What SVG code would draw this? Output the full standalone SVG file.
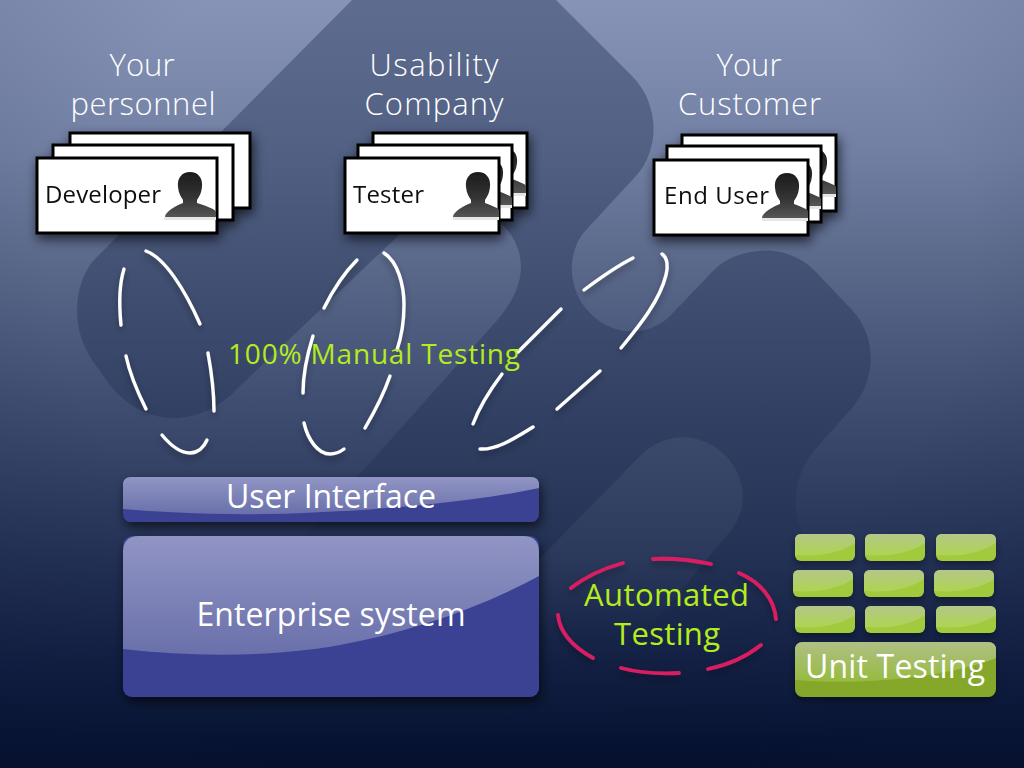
<svg xmlns="http://www.w3.org/2000/svg" xmlns:xlink="http://www.w3.org/1999/xlink" width="1024" height="768" viewBox="0 0 1024 768">
<style>
text{font-family:"Open Sans","Noto Sans","Liberation Sans",sans-serif;font-weight:300}
.h{font-size:31px;fill:#fff;text-anchor:middle}
.c{font-size:24px;fill:#111;font-weight:400}
.g{font-size:31px;fill:#b4ec1c;text-anchor:middle;font-weight:400}
.w{font-size:32px;fill:#fff;text-anchor:middle;font-weight:400}
.card{fill:#fff;stroke:#000;stroke-width:3}
.dash{fill:none;stroke:#fff;stroke-width:3.4;stroke-linecap:round}
.pink{fill:none;stroke:#dc1f62;stroke-width:3.8;stroke-linecap:round}
.sm{fill:#a2ca3e}
.smg{fill:url(#gs)}
</style>
<defs>
<linearGradient id="bg" x1="0" y1="0" x2="0" y2="1">
<stop offset="0" stop-color="#8794b8"/><stop offset=".2" stop-color="#717fa3"/><stop offset=".33" stop-color="#5c6a8c"/><stop offset=".52" stop-color="#404e72"/><stop offset=".72" stop-color="#253357"/><stop offset=".88" stop-color="#101d40"/><stop offset="1" stop-color="#030f2c"/>
</linearGradient>
<radialGradient id="vig" cx=".5" cy=".35" r=".75">
<stop offset=".6" stop-color="#0a1535" stop-opacity="0"/><stop offset="1" stop-color="#0a1535" stop-opacity=".2"/>
</radialGradient>
<linearGradient id="dk" gradientUnits="userSpaceOnUse" x1="0" y1="0" x2="0" y2="740">
<stop offset="0" stop-color="#1a2a4c" stop-opacity=".38"/><stop offset=".6" stop-color="#1a2a4c" stop-opacity=".34"/><stop offset="1" stop-color="#1a2a4c" stop-opacity="0"/>
</linearGradient>
<linearGradient id="lt" gradientUnits="userSpaceOnUse" x1="0" y1="430" x2="0" y2="640">
<stop offset="0" stop-color="#fff" stop-opacity=".06"/><stop offset=".6" stop-color="#fff" stop-opacity=".04"/><stop offset="1" stop-color="#fff" stop-opacity="0"/>
</linearGradient>
<linearGradient id="gb" x1="0" y1="0" x2="0" y2="1"><stop offset="0" stop-color="#9195c5"/><stop offset="1" stop-color="#6a70aa"/></linearGradient>
<linearGradient id="gs" x1="0" y1="0" x2="0" y2="1"><stop offset="0" stop-color="#b4c788"/><stop offset="1" stop-color="#aed452"/></linearGradient>
<linearGradient id="gu" x1="0" y1="0" x2="0" y2="1"><stop offset="0" stop-color="#b0c086"/><stop offset="1" stop-color="#96bb3e"/></linearGradient>
<linearGradient id="pg" x1="0" y1="0" x2="0" y2="1"><stop offset="0" stop-color="#1c1c1c"/><stop offset=".55" stop-color="#333"/><stop offset="1" stop-color="#555"/></linearGradient>
<filter id="sh" x="-20%" y="-30%" width="140%" height="170%"><feDropShadow dx="2" dy="5" stdDeviation="6" flood-color="#000" flood-opacity=".65"/></filter>
<filter id="ds" x="-30%" y="-30%" width="160%" height="170%"><feDropShadow dx="0" dy="4" stdDeviation="3.5" flood-color="#000" flood-opacity=".35"/></filter>
<filter id="soft" x="-5%" y="-5%" width="110%" height="110%"><feGaussianBlur stdDeviation=".6"/></filter>
<g id="person">
<rect x="0" y="45" width="52" height="3" fill="#e6e6e6" filter="url(#soft)"/>
<path d="M26,0C34,0 39,6 38,15C37.500,21 35,25 33,28L33,31C41,34 50,36 52,40L52,45L1,45C1,40 11,34 19,31L19,28C17,25 14.500,21 14,15C13,6 18,0 26,0Z" fill="url(#pg)" filter="url(#soft)"/>
</g>
<g id="personn">
<rect x="0" y="45" width="46" height="3" fill="#e6e6e6" filter="url(#soft)"/>
<path d="M25,0C33,0 38,6 37,15C36.500,21 34,25 32,28L32,31C39,34 46,36 46,38L46,45L0,45C0,40 10,34 18,31L18,28C16,25 13.500,21 13,15C12,6 17,0 25,0Z" fill="url(#pg)" filter="url(#soft)"/>
</g>
</defs>

<g id="background">
<rect width="1024" height="768" fill="url(#bg)"/>
<rect width="1024" height="768" fill="url(#vig)"/>
<path fill="url(#dk)" d="M352,0L556,0L632,76C660,104 660,150 636,176L586,230C566,252 567,290 590,313C612,336 646,337 668,318L712,272C738,244 790,243 816,272L852,310C878,338 876,380 852,408L818,446C792,474 790,512 806,540L830,768L0,768L180,660L310,530L492,326C526,290 530,255 504,226C480,202 445,196 420,215L240,386C200,430 140,430 105,378L92,360C72,330 72,290 92,262Z"/>
<path fill="url(#lt)" d="M640,456C668,428 705,434 726,456C748,480 748,512 728,534L640,640L460,640Z"/>
</g>

<g id="connectors">
<g id="ellipse-developer" filter="url(#ds)">
<path class="dash" d="M146,251C165,258 185,290 200,324"/>
<path class="dash" d="M124,269C119,285 119,305 121,325"/>
<path class="dash" d="M126,356C130,375 138,393 146,409"/>
<path class="dash" d="M208,353C212,375 214,393 214,411"/>
<path class="dash" d="M162,435C172,447 182,453 190,453C198,453 204,447 207,440"/>
</g>
<g id="ellipse-tester" filter="url(#ds)">
<path class="dash" d="M357,260C345,272 333,290 324,308"/>
<path class="dash" d="M384,253C398,262 404,285 404,305C404,320 402,335 397,350"/>
<path class="dash" d="M313,336C307,355 303,375 303,393"/>
<path class="dash" d="M390,376C384,393 375,411 365,428"/>
<path class="dash" d="M304,423C308,440 318,454 330,454C335,454 340,452 344,449"/>
</g>
<g id="ellipse-enduser" filter="url(#ds)">
<path class="dash" d="M633,258C615,267 600,278 584,290"/>
<path class="dash" d="M662,254C668,258 668,268 666,275C660,300 640,325 621,348"/>
<path class="dash" d="M561,309L518,352"/>
<path class="dash" d="M502,374C490,390 480,405 473,424"/>
<path class="dash" d="M600,371L557,409"/>
<path class="dash" d="M480,449C497,450 515,438 533,427"/>
</g>
<g id="ellipse-automated" filter="url(#ds)">
<path class="pink" d="M623,563C605,568 585,577 571,588"/>
<path class="pink" d="M653,559C672,558 692,560 711,564"/>
<path class="pink" d="M739,573C760,582 774,598 776,619"/>
<path class="pink" d="M558,615C560,635 575,648 593,658"/>
<path class="pink" d="M621,668C640,673 660,674 679,673"/>
<path class="pink" d="M708,669C728,665 746,657 761,645"/>
</g>
</g>

<g id="label-personnel"><text class="h" x="142" y="76">Your</text><text class="h" x="143" y="115" textLength="145">personnel</text></g>
<g id="label-usability"><text class="h" x="434" y="76" textLength="129">Usability</text><text class="h" x="434" y="115" textLength="139">Company</text></g>
<g id="label-customer"><text class="h" x="749" y="76">Your</text><text class="h" x="749.500" y="115" textLength="143">Customer</text></g>

<g id="cards-developer" filter="url(#sh)">
<g transform="translate(70,133)"><rect class="card" width="180" height="75"/><use xlink:href="#person" href="#person" x="94" y="15"/></g>
<g transform="translate(53,145)"><rect class="card" width="180" height="75"/><use xlink:href="#person" href="#person" x="111" y="15"/></g>
<g id="node-developer" transform="translate(37,158)"><rect class="card" width="180" height="75"/><use xlink:href="#person" href="#person" x="127" y="14"/><text class="c" x="8" y="45" textLength="116">Developer</text></g>
</g>
<g id="cards-tester" filter="url(#sh)">
<g transform="translate(373,133)"><rect class="card" width="154" height="75"/><use xlink:href="#personn" href="#personn" x="107" y="15"/></g>
<g transform="translate(358,145)"><rect class="card" width="154" height="75"/><use xlink:href="#personn" href="#personn" x="108" y="15"/></g>
<g id="node-tester" transform="translate(345,158)"><rect class="card" width="154" height="75"/><use xlink:href="#personn" href="#personn" x="108" y="14"/><text class="c" x="8" y="45" textLength="71">Tester</text></g>
</g>
<g id="cards-enduser" filter="url(#sh)">
<g transform="translate(682,135)"><rect class="card" width="154" height="76"/><use xlink:href="#personn" href="#personn" x="108" y="14"/></g>
<g transform="translate(667,146)"><rect class="card" width="154" height="76"/><use xlink:href="#personn" href="#personn" x="108" y="15"/></g>
<g id="node-enduser" transform="translate(654,160)"><rect class="card" width="154" height="75"/><use xlink:href="#personn" href="#personn" x="108" y="13"/><text class="c" x="10" y="44" textLength="105">End User</text></g>
</g>

<text id="label-manual" class="g" x="374" y="364" style="font-size:28px" textLength="292">100% Manual Testing</text>

<g id="node-ui">
<rect x="123" y="477" width="416" height="45" rx="8" fill="#3a4393" filter="url(#sh)"/>
<path d="M123,509L123,485Q123,477 131,477L531,477Q539,477 539,485L539,488C470,503 360,512 270,514C210,515 160,512 123,509Z" fill="url(#gb)"/>
<text class="w" x="331" y="508" textLength="210">User Interface</text>
</g>
<g id="node-enterprise">
<rect x="123" y="536" width="416" height="161" rx="9" fill="#3a4393" filter="url(#sh)"/>
<path d="M123,649L123,552Q123,536 139,536L523,536Q539,536 539,552L539,576C480,608 410,632 340,645C280,656 200,658 123,649Z" fill="url(#gb)"/>
<text class="w" x="331" y="626" textLength="269">Enterprise system</text>
</g>

<g id="label-automated"><text class="g" x="666.500" y="606" textLength="165">Automated</text><text class="g" x="667" y="645" textLength="106">Testing</text></g>

<g id="unit-tests">
<g id="tests-row-1" filter="url(#ds)">
<rect class="sm" x="795" y="534" width="60" height="27" rx="6"/><rect class="sm" x="865" y="534" width="60" height="27" rx="6"/><rect class="sm" x="936" y="534" width="60" height="27" rx="6"/>
<path class="smg" d="M795,555V540Q795,534 801,534H849Q855,534 855,540V543C840,553 820,557 795,555Z"/><path class="smg" d="M865,555V540Q865,534 871,534H919Q925,534 925,540V543C910,553 890,557 865,555Z"/><path class="smg" d="M936,555V540Q936,534 942,534H990Q996,534 996,540V543C981,553 961,557 936,555Z"/>
</g>
<g id="tests-row-2" filter="url(#ds)">
<rect class="sm" x="793" y="570" width="60" height="27" rx="6"/><rect class="sm" x="864" y="570" width="60" height="27" rx="6"/><rect class="sm" x="934" y="570" width="60" height="27" rx="6"/>
<path class="smg" d="M793,591V576Q793,570 799,570H847Q853,570 853,576V579C838,589 818,593 793,591Z"/><path class="smg" d="M864,591V576Q864,570 870,570H918Q924,570 924,576V579C909,589 889,593 864,591Z"/><path class="smg" d="M934,591V576Q934,570 940,570H988Q994,570 994,576V579C979,589 959,593 934,591Z"/>
</g>
<g id="tests-row-3" filter="url(#ds)">
<rect class="sm" x="795" y="606" width="60" height="27" rx="6"/><rect class="sm" x="865" y="606" width="60" height="27" rx="6"/><rect class="sm" x="936" y="606" width="60" height="27" rx="6"/>
<path class="smg" d="M795,627V612Q795,606 801,606H849Q855,606 855,612V615C840,625 820,629 795,627Z"/><path class="smg" d="M865,627V612Q865,606 871,606H919Q925,606 925,612V615C910,625 890,629 865,627Z"/><path class="smg" d="M936,627V612Q936,606 942,606H990Q996,606 996,612V615C981,625 961,629 936,627Z"/>
</g>
</g>
<g id="node-unit">
<rect x="795" y="642" width="201" height="55" rx="8" fill="#86a82c" filter="url(#ds)"/>
<path d="M795,680V650Q795,642 803,642H988Q996,642 996,650V658C950,676 870,686 795,680Z" fill="url(#gu)"/>
<text class="w" x="895" y="678" textLength="180">Unit Testing</text>
</g>
</svg>
